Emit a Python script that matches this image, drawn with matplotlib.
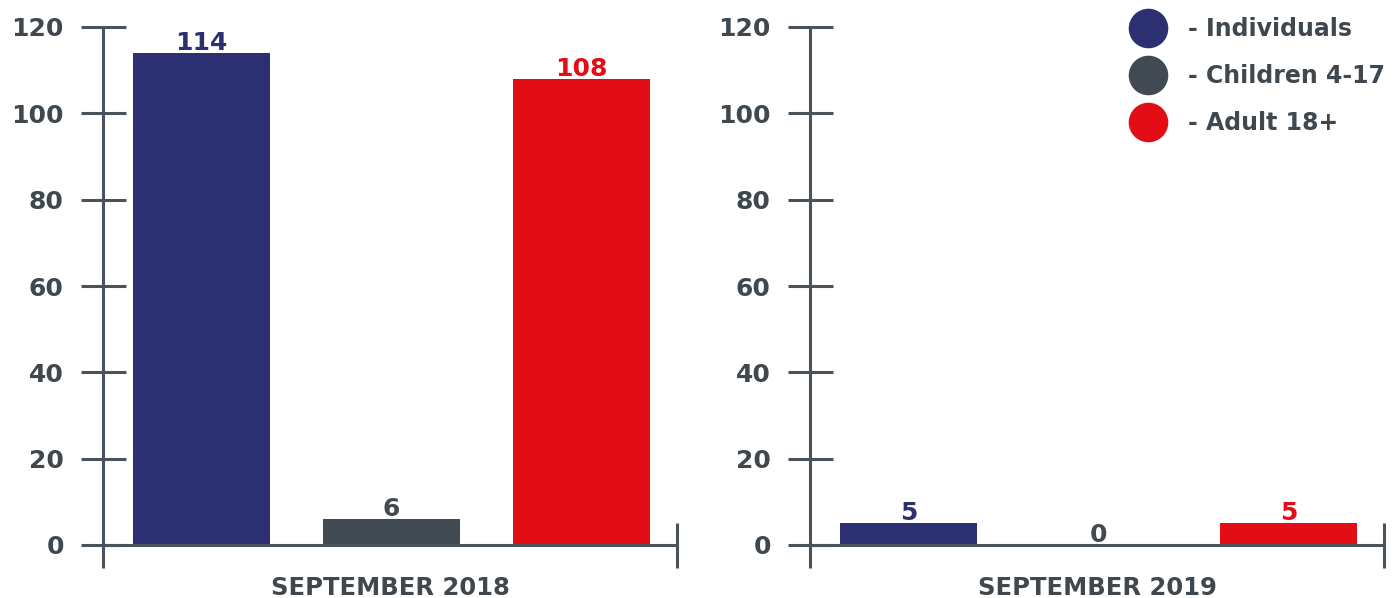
import matplotlib
matplotlib.use("Agg")
import matplotlib.pyplot as plt
from matplotlib.lines import Line2D

# Data
categories = ["Individuals", "Children 4-17", "Adult 18+"]
legend_labels = ["- Individuals", "- Children 4-17", "- Adult 18+"]
periods = ["SEPTEMBER 2018", "SEPTEMBER 2019"]
values_2018 = [114, 6, 108]
values_2019 = [5, 0, 5]
yticks = [0, 20, 40, 60, 80, 100, 120]

# Styling
bar_colors = ["#2c3072", "#414a52", "#e30d15"]
text_color = "#3f474f"
axis_color = "#4a535b"
FONT = "DejaVu Sans"

W, H, DPI = 1399, 598, 100
fig = plt.figure(figsize=(W / DPI, H / DPI), dpi=DPI)

y0_px, ytop_px = 545, 27
ax_w_px = 574
panel_left_px = [103, 810]

XMIN, XMAX = -0.518, 2.503
YMAX = 120
px_per_unit = (y0_px - ytop_px) / YMAX
below = 23 / px_per_unit      # axis extension below zero
above_end = 22 / px_per_unit  # end tick height above zero


def draw_panel(ax, values, title):
    x = list(range(len(values)))
    ax.bar(x, values, width=0.72, color=bar_colors, zorder=2)
    ax.set_xlim(XMIN, XMAX)
    ax.set_ylim(0, YMAX)
    for s in ax.spines.values():
        s.set_visible(False)
    ax.set_xticks([])
    ax.set_yticks(yticks)
    ax.set_yticklabels([str(t) for t in yticks], fontfamily=FONT,
                       fontweight="bold", fontsize=18, color=text_color)
    ax.tick_params(axis="y", direction="inout", length=32.4, width=2.2,
                   color=axis_color, pad=12)
    # axis lines
    ax.plot([XMIN, XMIN], [-below, YMAX], color=axis_color, lw=2.2,
            clip_on=False, zorder=3, solid_capstyle="butt")
    ax.plot([XMIN, XMAX], [0, 0], color=axis_color, lw=2.2,
            clip_on=False, zorder=3, solid_capstyle="butt")
    ax.plot([XMAX, XMAX], [-below, above_end], color=axis_color, lw=2.2,
            clip_on=False, zorder=3, solid_capstyle="butt")
    # value labels
    for xi, v, c in zip(x, values, bar_colors):
        ax.text(xi, v + 2.3, str(v), ha="center", va="center",
                fontfamily=FONT, fontweight="bold", fontsize=18,
                color=c, zorder=4)
    ax.text((XMIN + XMAX) / 2, -(588 - y0_px) / px_per_unit, title,
            ha="center", va="center", fontfamily=FONT, fontweight="bold",
            fontsize=17.5, color=text_color, clip_on=False)


for left_px, vals, title in zip(panel_left_px, [values_2018, values_2019], periods):
    ax = fig.add_axes([left_px / W, (H - y0_px) / H, ax_w_px / W,
                       (y0_px - ytop_px) / H])
    draw_panel(ax, vals, title)

# Legend: colour dots with labels, stacked in the top-right corner
legend_y_px = [28, 75, 122]
for lab, c, ypx in zip(legend_labels, bar_colors, legend_y_px):
    fig.add_artist(Line2D([1148 / W], [1 - ypx / H], marker="o",
                          linestyle="none", markersize=27.5,
                          markerfacecolor=c, markeredgecolor=c,
                          transform=fig.transFigure))
    fig.text(1188 / W, 1 - (ypx + 1) / H, lab, ha="left", va="center",
             fontfamily=FONT, fontweight="bold", fontsize=17,
             color=text_color)

fig.savefig("out.png", dpi=DPI)
